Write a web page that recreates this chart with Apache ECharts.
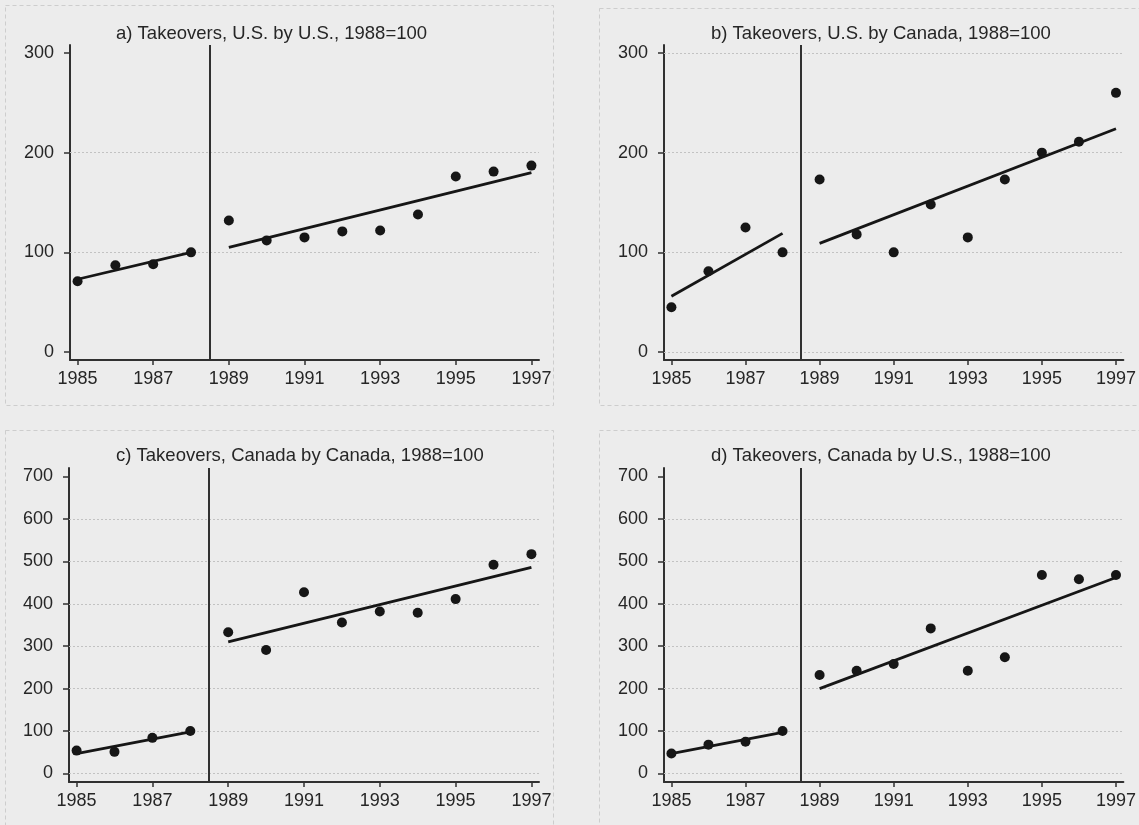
<!DOCTYPE html>
<html>
<head>
<meta charset="utf-8">
<title>Takeovers, 1988=100</title>
<script src="https://cdn.jsdelivr.net/npm/echarts@6/dist/echarts.min.js"></script>
<style>
  html, body { margin: 0; padding: 0; background: #ececec; }
  #chart { width: 1139px; height: 825px; }
</style>
</head>
<body>
<div id="chart"></div>
<script>
// Years and index values (1988 = 100)
const years = [1985, 1986, 1987, 1988, 1989, 1990, 1991, 1992, 1993, 1994, 1995, 1996, 1997];
const usByUs = [71, 87, 88, 100, 132, 112, 115, 121, 122, 138, 176, 181, 187];
const usByCanada = [45, 81, 125, 100, 173, 118, 100, 148, 115, 173, 200, 211, 260];
const canadaByCanada = [54, 51, 84, 100, 333, 291, 427, 356, 382, 379, 411, 492, 517];
const canadaByUs = [47, 68, 75, 100, 232, 242, 258, 342, 242, 274, 468, 458, 468];

// Fitted trend lines: values at the start and end of each period
const fitYears = [1985, 1988, 1989, 1997];
const usByUsFit = [73, 100, 105, 180];
const usByCanadaFit = [56, 119, 109, 224];
const canadaByCanadaFit = [47, 98, 310, 486];
const canadaByUsFit = [47, 97, 200, 462];

// Period break (between 1988 and 1989)
const breakYear = 1988.5;

// Tick labels and gridline levels
const xTickYears = [1985, 1987, 1989, 1991, 1993, 1995, 1997];
const yTicksUS = [0, 100, 200, 300];
const yTicksCanada = [0, 100, 200, 300, 400, 500, 600, 700];
const gridLevelsA = [100, 200];
const gridLevelsB = [0, 100, 200, 300];
const gridLevelsC = [0, 100, 200, 300, 400, 500, 600];
const gridLevelsD = [0, 100, 200, 300, 400, 500, 600];

const titles = [
  'a) Takeovers, U.S. by U.S., 1988=100',
  'b) Takeovers, U.S. by Canada, 1988=100',
  'c) Takeovers, Canada by Canada, 1988=100',
  'd) Takeovers, Canada by U.S., 1988=100'
];

const FONT = '"Liberation Sans", Arial, Helvetica, sans-serif';
const INK = '#161616';
const TEXT = '#262626';
const AXIS = '#303030';

const panels = [
  { values: usByUs, fit: usByUsFit, ticks: yTicksUS, levels: gridLevelsA, ymin: -8, ymax: 308,
    grid: { left: 70, top: 45, width: 469, height: 315 }, title: { left: 116, top: 24 } },
  { values: usByCanada, fit: usByCanadaFit, ticks: yTicksUS, levels: gridLevelsB, ymin: -8, ymax: 308,
    grid: { left: 664, top: 45, width: 465, height: 315 }, title: { left: 711, top: 24 } },
  { values: canadaByCanada, fit: canadaByCanadaFit, ticks: yTicksCanada, levels: gridLevelsC, ymin: -20, ymax: 720,
    grid: { left: 69, top: 468, width: 470, height: 314 }, title: { left: 116, top: 446 } },
  { values: canadaByUs, fit: canadaByUsFit, ticks: yTicksCanada, levels: gridLevelsD, ymin: -20, ymax: 720,
    grid: { left: 664, top: 468, width: 465, height: 314 }, title: { left: 711, top: 446 } }
];

const option = {
  backgroundColor: '#ececec',
  animation: false,
  title: panels.map((p, i) => ({
    text: titles[i],
    left: p.title.left,
    top: p.title.top,
    padding: 0,
    textStyle: { fontFamily: FONT, fontSize: 18.5, fontWeight: 'normal', color: TEXT }
  })),
  graphic: [
    { type: 'rect', shape: { x: 5.5, y: 5.5, width: 548, height: 400 }, silent: true,
      style: { fill: 'none', stroke: '#cdcdcd', lineWidth: 1, lineDash: [4, 3] } },
    { type: 'rect', shape: { x: 599.5, y: 8.5, width: 560, height: 397 }, silent: true,
      style: { fill: 'none', stroke: '#cdcdcd', lineWidth: 1, lineDash: [4, 3] } },
    { type: 'rect', shape: { x: 5.5, y: 430.5, width: 548, height: 420 }, silent: true,
      style: { fill: 'none', stroke: '#cdcdcd', lineWidth: 1, lineDash: [4, 3] } },
    { type: 'rect', shape: { x: 599.5, y: 430.5, width: 560, height: 420 }, silent: true,
      style: { fill: 'none', stroke: '#cdcdcd', lineWidth: 1, lineDash: [4, 3] } }
  ],
  grid: panels.map(p => Object.assign({ containLabel: false }, p.grid)),
  xAxis: panels.map((p, i) => ({
    type: 'value',
    gridIndex: i,
    min: 1984.8,
    max: 1997.2,
    axisLine: { show: true, onZero: false, lineStyle: { color: AXIS, width: 2 } },
    axisTick: { show: true, customValues: xTickYears, length: 5, lineStyle: { color: AXIS, width: 1.5 } },
    axisLabel: { customValues: xTickYears, margin: 10, fontSize: 18, fontFamily: FONT, color: TEXT,
      formatter: v => String(v) },
    splitLine: { show: false }
  })),
  yAxis: panels.map((p, i) => ({
    type: 'value',
    gridIndex: i,
    min: p.ymin,
    max: p.ymax,
    axisLine: { show: true, onZero: false, lineStyle: { color: AXIS, width: 2 } },
    axisTick: { show: true, customValues: p.ticks, length: 6, lineStyle: { color: AXIS, width: 1.5 } },
    axisLabel: { customValues: p.ticks, margin: 16, fontSize: 18, fontFamily: FONT, color: TEXT },
    splitLine: { show: false }
  })),
  series: []
};

panels.forEach((p, i) => {
  // Gridlines and the period break, kept beneath the data marks
  option.series.push({
    type: 'line',
    xAxisIndex: i,
    yAxisIndex: i,
    data: [],
    silent: true,
    z: 1,
    markLine: {
      silent: true,
      z: 1,
      symbol: 'none',
      label: { show: false },
      animation: false,
      data: p.levels.map(v => ({ yAxis: v, lineStyle: { color: '#c2c2c2', width: 1, type: [2, 2] } }))
        .concat([{ xAxis: breakYear, lineStyle: { color: AXIS, width: 2, type: 'solid' } }])
    }
  });
  // Trend before the break
  option.series.push({
    type: 'line',
    xAxisIndex: i,
    yAxisIndex: i,
    showSymbol: false,
    symbol: 'none',
    z: 3,
    lineStyle: { color: INK, width: 2.8 },
    data: [[fitYears[0], p.fit[0]], [fitYears[1], p.fit[1]]]
  });
  // Trend after the break
  option.series.push({
    type: 'line',
    xAxisIndex: i,
    yAxisIndex: i,
    showSymbol: false,
    symbol: 'none',
    z: 3,
    lineStyle: { color: INK, width: 2.8 },
    data: [[fitYears[2], p.fit[2]], [fitYears[3], p.fit[3]]]
  });
  // Annual observations
  option.series.push({
    type: 'scatter',
    xAxisIndex: i,
    yAxisIndex: i,
    symbol: 'circle',
    symbolSize: 10,
    z: 6,
    itemStyle: { color: INK, opacity: 1 },
    data: years.map((y, k) => [y, p.values[k]])
  });
});

const chart = echarts.init(document.getElementById('chart'), null, { renderer: 'canvas' });
chart.setOption(option);
</script>
</body>
</html>
